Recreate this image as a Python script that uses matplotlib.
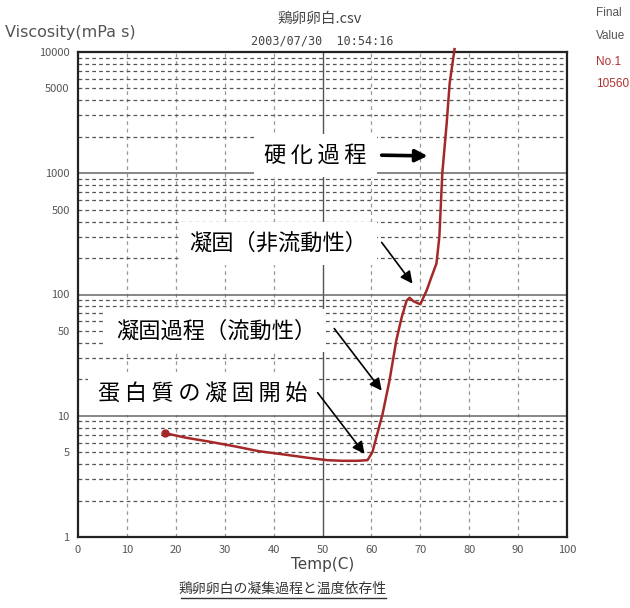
import numpy as np
import matplotlib
matplotlib.use('Agg')
import matplotlib.pyplot as plt
from matplotlib.lines import Line2D

plt.rcParams['font.family'] = ['Noto Sans CJK JP', 'DejaVu Sans']

# data (temperature in C, viscosity in mPa s)
temp = [17.7, 22, 27, 32, 37, 42, 47, 51, 54, 57, 59.2, 60.2, 61.0, 62.3, 63.7,
        65.1, 66.2, 67.2, 67.8, 68.6, 70.0, 71.3, 72.3, 73.3, 73.9, 74.5, 75.4,
        76.0, 77.0]
visc = [7.2, 6.6, 6.1, 5.6, 5.1, 4.8, 4.5, 4.3, 4.25, 4.25, 4.3, 5.0, 6.6, 10.4,
        19.5, 42, 65, 89, 94, 88, 83, 108, 140, 180, 300, 1000, 2600, 5500, 10560]

x_ticks = [0, 10, 20, 30, 40, 50, 60, 70, 80, 90, 100]
y_ticks = [1, 5, 10, 50, 100, 500, 1000, 5000, 10000]

# annotations: label, text centre, arrow tail, arrow tip (data coords)
TS = '\u2009'
notes = [
    (TS.join('硬化過程'), (48.6, 1409), (62.1, 1409), (71.5, 1390)),
    ('凝固（非流動性）', (41.0, 264), (62.1, 269), (68.4, 123)),
    ('凝固過程（流動性）', (28.2, 50.3), (52.4, 52.4), (62.1, 16.1)),
    (TS.join('蛋白質の凝固開始'), (25.5, 15.2), (49.0, 15.5), (58.6, 4.85)),
]

fig = plt.figure(figsize=(6.3, 6.08), dpi=100)
ax = fig.add_axes([78 / 630, 1 - 537 / 608, 489 / 630, 485 / 608])
ax.set_yscale('log')
ax.set_xlim(0, 100)
ax.set_ylim(1, 10000)

# grid
for xv in x_ticks[1:-1]:
    if xv == 50:
        ax.axvline(xv, color='#555555', lw=1.0, zorder=1)
    else:
        ax.axvline(xv, color='#999999', lw=0.9, ls=(0, (3, 3)), zorder=1)
for dec in [1, 10, 100, 1000]:
    if dec > 1:
        ax.axhline(dec, color='#666666', lw=1.1, zorder=1)
    for m in range(2, 10):
        ax.axhline(dec * m, color='#555555', lw=0.9, ls=(0, (3, 2.5)), zorder=1)

ax.plot(temp, visc, color='#a52828', lw=1.8, zorder=4, clip_on=False)
ax.plot(temp[0], visc[0], 'o', color='#a52828', ms=5, zorder=5)

for label, txt, tail, tip in notes:
    lw = 2.6 if label.startswith('硬') else 1.2
    ax.text(txt[0], txt[1], label, fontsize=16, ha='center', va='center',
            color='black', zorder=6,
            bbox=dict(boxstyle='square,pad=0.45', fc='white', ec='none'))
    ax.annotate('', xy=tip, xytext=tail, zorder=7,
                arrowprops=dict(arrowstyle='-|>', color='black', lw=lw,
                                mutation_scale=18, shrinkA=0, shrinkB=0))

ax.set_xticks(x_ticks)
ax.set_xticklabels([str(v) for v in x_ticks])
ax.set_yticks(y_ticks)
ax.set_yticklabels([str(v) for v in y_ticks])
ax.minorticks_off()
ax.tick_params(length=0, labelsize=8, colors='#555555', pad=6)
for s in ax.spines.values():
    s.set_color('#222222')
    s.set_linewidth(1.6)

ax.set_xlabel('Temp(C)', fontsize=11, color='#444444', labelpad=1,
              family='DejaVu Sans')

# header texts
fig.text(5 / 630, 1 - 33 / 608, 'Viscosity(mPa s)', fontsize=11.5, color='#555555',
         ha='left', va='center', family='DejaVu Sans')
fig.text(320 / 630, 1 - 19 / 608, '鶏卵卵白.csv', fontsize=10.5, color='#444444',
         ha='center', va='center')
fig.text(322 / 630, 1 - 41 / 608, '2003/07/30  10:54:16', fontsize=8.5,
         color='#444444', ha='center', va='center', family='DejaVu Sans Mono')
for txt, ypx, col in [('Final', 13, '#555555'), ('Value', 36, '#555555'),
                      ('No.1', 62, '#b03030'), ('10560', 84, '#b03030')]:
    fig.text(596 / 630, 1 - ypx / 608, txt, fontsize=8.5, color=col,
             ha='left', va='center', family='Liberation Sans')

# caption with underline
fig.text(283 / 630, 1 - 589 / 608, '鶏卵卵白の凝集過程と温度依存性', fontsize=10,
         color='#333333', ha='center', va='center')
fig.add_artist(Line2D([181 / 630, 386 / 630], [1 - 598 / 608, 1 - 598 / 608],
                      color='#333333', lw=1.0))

fig.savefig('out.png', dpi=100)
